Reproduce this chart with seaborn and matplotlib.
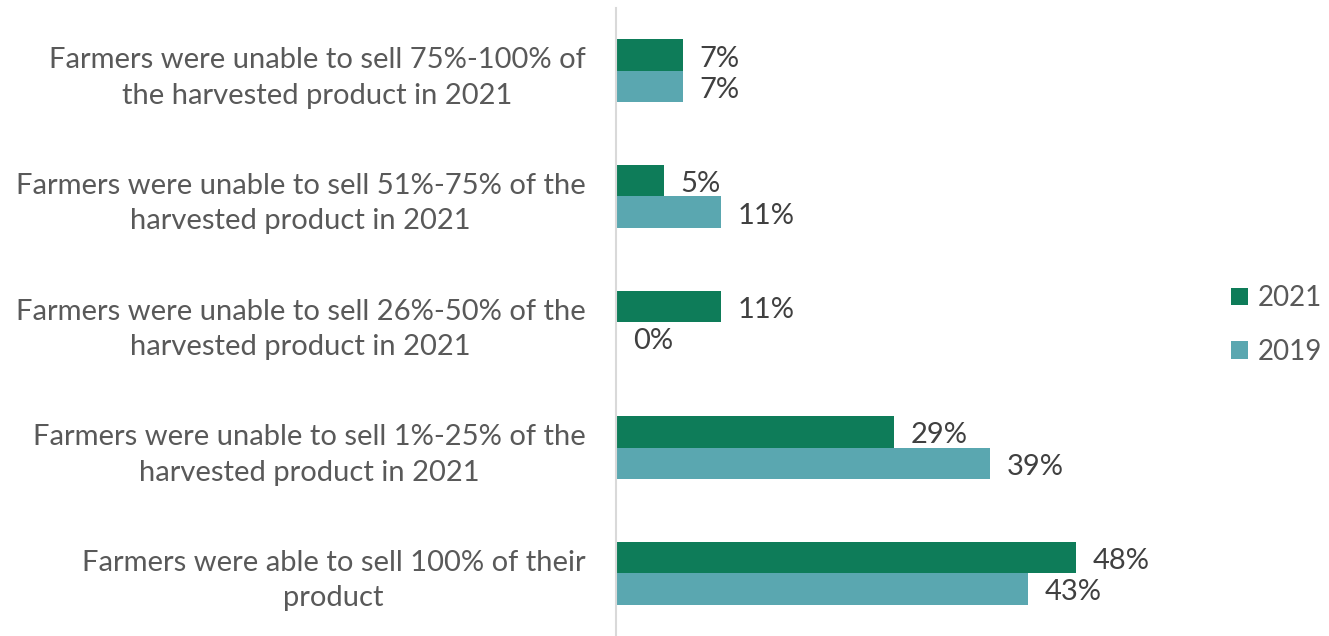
import matplotlib
matplotlib.use("Agg")
import matplotlib.pyplot as plt
import seaborn as sns
import pandas as pd

categories = [
    "Farmers were unable to sell 75%-100% of\nthe harvested product in 2021",
    "Farmers were unable to sell 51%-75% of the\nharvested product in 2021",
    "Farmers were unable to sell 26%-50% of the\nharvested product in 2021",
    "Farmers were unable to sell 1%-25% of the\nharvested product in 2021",
    "Farmers were able to sell 100% of their\nproduct",
]
values_2021 = [7, 5, 11, 29, 48]
values_2019 = [7, 11, 0, 39, 43]
series = ["2021", "2019"]
colors = ["#0E7C59", "#5AA7B0"]

df = pd.DataFrame({
    "category": categories * 2,
    "year": [series[0]] * len(categories) + [series[1]] * len(categories),
    "value": values_2021 + values_2019,
})

sns.set_theme(style="white")
plt.rcParams["font.family"] = ["Lato", "DejaVu Sans"]

fig = plt.figure(figsize=(13.29, 6.36), dpi=100)
ax = fig.add_axes([616 / 1329, 0.0, (1191 - 616) / 1329, 1 - 8 / 636])

sns.barplot(data=df, y="category", x="value", hue="year", hue_order=series,
            order=categories, palette=colors, width=0.5, orient="h",
            saturation=1, linewidth=0, ax=ax)

ax.set_xlim(0, 60)
ax.set_ylim(4.5, -0.5)
ax.set_xlabel("")
ax.set_ylabel("")
ax.set_xticks([])
for s in ["top", "right", "bottom"]:
    ax.spines[s].set_visible(False)
ax.spines["left"].set_color("#D9D9D9")
ax.spines["left"].set_linewidth(1.5)
ax.tick_params(axis="y", length=0, pad=22, labelsize=21, labelcolor="#595959")
for lbl in ax.get_yticklabels():
    lbl.set_multialignment("center")
    lbl.set_linespacing(1.45)
    x, y = lbl.get_position()

for cont in ax.containers:
    anns = ax.bar_label(cont, labels=[f"{v:.0f}%" for v in cont.datavalues],
                        padding=12, fontsize=21, color="#404040")
    for a in anns:
        a.xyann = (12, -2.5)

leg = ax.legend(loc="center left", bbox_to_anchor=(1.07, 0.495), frameon=False,
                fontsize=20, handlelength=0.6, handleheight=0.6,
                handletextpad=0.35, labelspacing=1.0, borderpad=0,
                borderaxespad=0)
for t in leg.get_texts():
    t.set_color("#595959")

fig.savefig("out.png", dpi=100)
